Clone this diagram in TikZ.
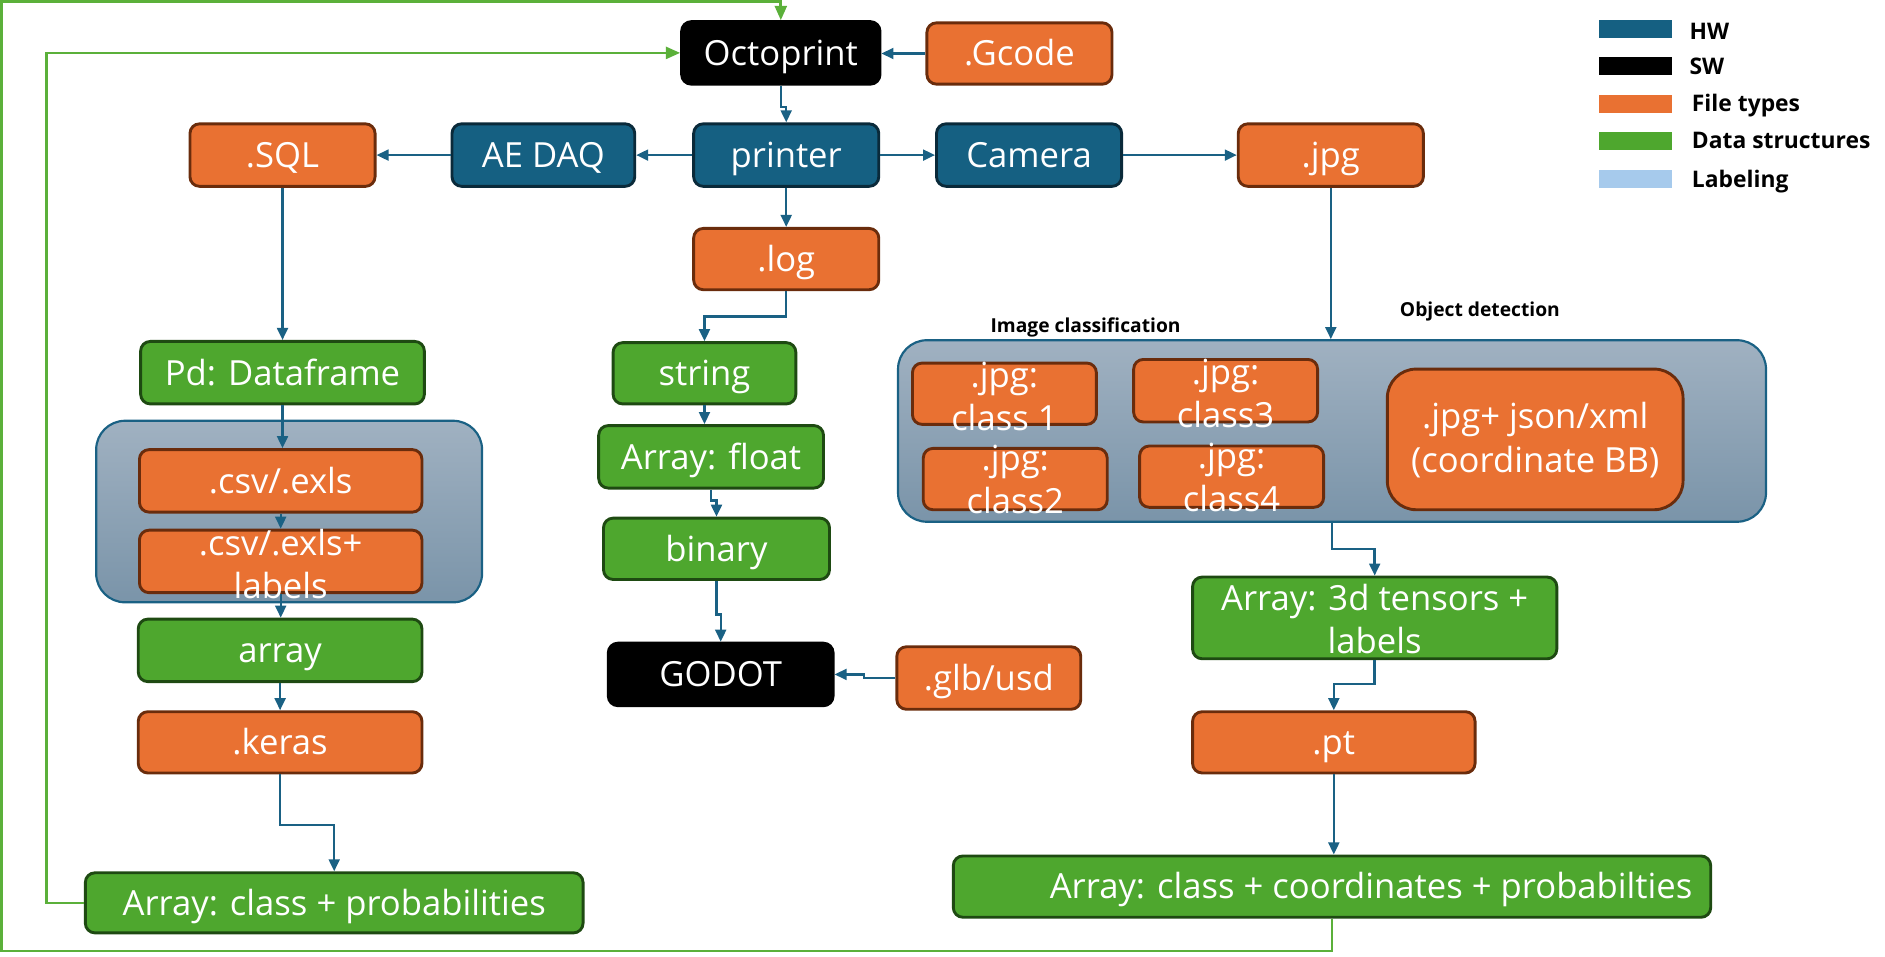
\documentclass[tikz,border=0pt]{standalone}
\usepackage{fontspec}
\setmainfont{Open Sans}
\usetikzlibrary{arrows.meta}
\definecolor{orF}{HTML}{E97132}
\definecolor{orD}{HTML}{6A2C0C}
\definecolor{blF}{HTML}{156082}
\definecolor{blD}{HTML}{0A2A3A}
\definecolor{grF}{HTML}{4EA72E}
\definecolor{grD}{HTML}{1E4A12}
\definecolor{lnB}{HTML}{1A6184}
\definecolor{lnG}{HTML}{5BB03A}
\definecolor{labC}{HTML}{A6CAEC}
\definecolor{gTop}{HTML}{A0B1C1}
\definecolor{gBot}{HTML}{7A94A9}
\newcommand{\mkbox}[7]{%
  \pgfmathsetmacro\bxcx{(#3+#5)/2}%
  \pgfmathsetmacro\bxcy{(#4+#6)/2}%
  \pgfmathsetmacro\bxw{(#5-#3)*0.5}%
  \pgfmathsetmacro\bxh{(#6-#4)*0.5}%
  \node[#2, minimum width=\bxw pt, minimum height=\bxh pt] (#1) at (\bxcx,\bxcy) {#7};%
}
\tikzset{
  txt/.style={text=white, font=\fontsize{14.4}{18}\selectfont, align=center, inner sep=0pt},
  box/.style={txt, text height=13.9pt, text depth=3.6pt, rounded corners=4pt, line width=1.2pt},
  orb/.style={box, fill=orF, draw=orD},
  orbL/.style={orb, rounded corners=12pt},
  blb/.style={box, fill=blF, draw=blD},
  grb/.style={box, fill=grF, draw=grD},
  bkb/.style={box, fill=black, draw=black},
  grp/.style={rounded corners=12pt, draw=lnB, line width=0.9pt, top color=gTop, bottom color=gBot, inner sep=0pt},
  conn/.style={draw=lnB, line width=1pt, -{Triangle[length=5pt,width=4.5pt]}},
  gconn/.style={draw=lnG, line width=1.1pt, -{Triangle[length=6pt,width=5pt]}},
  swatch/.style={inner sep=0pt, minimum width=30.5pt, minimum height=7.5pt},
  legtxt/.style={anchor=west, inner sep=0pt, font=\fontsize{9.5}{11}\selectfont\bfseries},
  hdr/.style={inner sep=0pt, font=\fontsize{8}{10}\selectfont\bfseries}
}
\begin{document}
\begin{tikzpicture}[x=0.5pt,y=-0.5pt]
\useasboundingbox (0,0) rectangle (1568,795.25);
% groups
\mkbox{lgrp}{grp}{80}{350}{401}{501}{}
\mkbox{rgrp}{grp}{747}{283}{1469}{434}{}
% top row
\mkbox{oct}{bkb}{567}{18}{732}{70}{Octoprint}
\mkbox{gcode}{orb}{771}{19}{925}{70}{.Gcode}
\mkbox{sql}{orb}{158}{103}{312}{155}{.SQL}
\mkbox{aedaq}{blb}{376}{103}{528}{155}{AE DAQ}
\mkbox{printer}{blb}{577}{103}{731}{155}{printer}
\mkbox{camera}{blb}{779}{103}{933}{155}{Camera}
\mkbox{jpg}{orb}{1030}{103}{1184}{155}{.jpg}
% middle column
\mkbox{log}{orb}{577}{190}{731}{241}{.log}
\mkbox{string}{grb}{510}{285}{662}{336}{string}
\mkbox{afl}{grb}{498}{354}{685}{406}{Array: float}
\mkbox{bin}{grb}{502}{431}{690}{482}{binary}
\mkbox{godot}{bkb}{506}{535}{693}{587}{GODOT}
\mkbox{glb}{orb}{746}{538}{899}{590}{.glb/usd}
% left column
\mkbox{pd}{grb}{117}{284}{353}{336}{Pd: Dataframe}
\mkbox{csv}{orb}{116}{374}{351}{426}{.csv/.exls}
\mkbox{csvl}{orb}{116}{441}{351}{493}{}
\node[txt] (csvlt) at (233.5,469) {.csv/.exls+\\labels};
\mkbox{arr}{grb}{115}{515}{351}{567}{array}
\mkbox{keras}{orb}{115}{592}{351}{643}{.keras}
\mkbox{acp}{grb}{71}{726}{485}{776}{Array: class + probabilities}
% right column
\mkbox{c1}{orb}{759}{302}{912}{353}{}
\node[txt] (c1t) at (835.5,330) {.jpg:\\class 1};
\mkbox{c3}{orb}{943}{299}{1096}{351}{}
\node[txt] (c3t) at (1019.5,327) {.jpg:\\class3};
\mkbox{c2}{orb}{768}{373}{921}{424}{}
\node[txt] (c2t) at (844.5,399) {.jpg:\\class2};
\mkbox{c4}{orb}{948}{371}{1101}{422}{}
\node[txt] (c4t) at (1024.5,397) {.jpg:\\class4};
\mkbox{bb}{orbL}{1154}{307}{1400}{424}{}
\node[txt] (bbt) at (1277,366) {.jpg+ json/xml\\(coordinate BB)};
\mkbox{a3d}{grb}{992}{480}{1295}{548}{}
\node[txt] (a3dt) at (1143.5,515) {Array: 3d tensors +\\labels};
\mkbox{pt}{orb}{992}{592}{1227}{643}{.pt}
\mkbox{accp}{grb}{793}{712}{1423}{763}{}
\node[txt] (accpt) at (1140.5,740) {Array: class + coordinates + probabilties};
% headers
\node[hdr] (hic) at (903,272) {Image classification};
\node[hdr] (hod) at (1231,259) {Object detection};
% legend
\node[swatch, fill=blF] (sHW) at (1360.5,24.5) {};
\node[swatch, fill=black] (sSW) at (1360.5,54.5) {};
\node[swatch, fill=orF] (sFT) at (1360.5,86.5) {};
\node[swatch, fill=grF] (sDS) at (1360.5,117) {};
\node[swatch, fill=labC] (sLB) at (1360.5,148.5) {};
\node[legtxt] (tHW) at (1405,26) {HW};
\node[legtxt] (tSW) at (1405,55) {SW};
\node[legtxt] (tFT) at (1407,88) {File types};
\node[legtxt] (tDS) at (1407,117) {Data structures};
\node[legtxt] (tLB) at (1407,151) {Labeling};
% connectors
\draw[conn] (gcode.west) -- (oct.east |- gcode.west);
\draw[conn] (oct.south) -- ++(0,18) -| (printer.north);
\draw[conn] (printer.west) -- (aedaq.east);
\draw[conn] (aedaq.west) -- (sql.east);
\draw[conn] (printer.east) -- (camera.west);
\draw[conn] (camera.east) -- (jpg.west);
\draw[conn] (printer.south) -- (log.north);
\draw[conn] (log.south) -- ++(0,21) -| (string.north);
\draw[conn] (sql.south) -- (sql.south |- pd.north);
\draw[conn] (pd.south) -- (pd.south |- csv.north);
\draw[conn] (csv.south) -- (csv.south |- csvl.north);
\draw[conn] (csvl.south) -- (csvl.south |- arr.north);
\draw[conn] (arr.south) -- (arr.south |- keras.north);
\draw[conn] (keras.south) -- ++(0,42) -| (acp.north);
\draw[conn] (string.south) -- (string.south |- afl.north);
\draw[conn] (afl.south) -- ++(0,9) -| (bin.north);
\draw[conn] (bin.south) -- ++(0,28) -| (godot.north);
\draw[conn] (glb.west) -- ++(-26,0) |- (godot.east);
\draw[conn] (jpg.south) -- (jpg.south |- rgrp.north);
\draw[conn] (rgrp.south) -- ++(0,22) -| (a3d.north);
\draw[conn] (a3d.south) -- ++(0,20) -| (pt.north);
\draw[conn] (pt.south) -- (pt.south |- accp.north);
% feedback loops
\coordinate (tl) at (1.5,1.5);
\coordinate (bl) at (1.5,791);
\draw[gconn] (accp.south) |- (bl) -- (tl) -| (oct.north);
\draw[gconn] (acp.west) -- ++(-31,0) |- (oct.west);
\end{tikzpicture}
\end{document}
